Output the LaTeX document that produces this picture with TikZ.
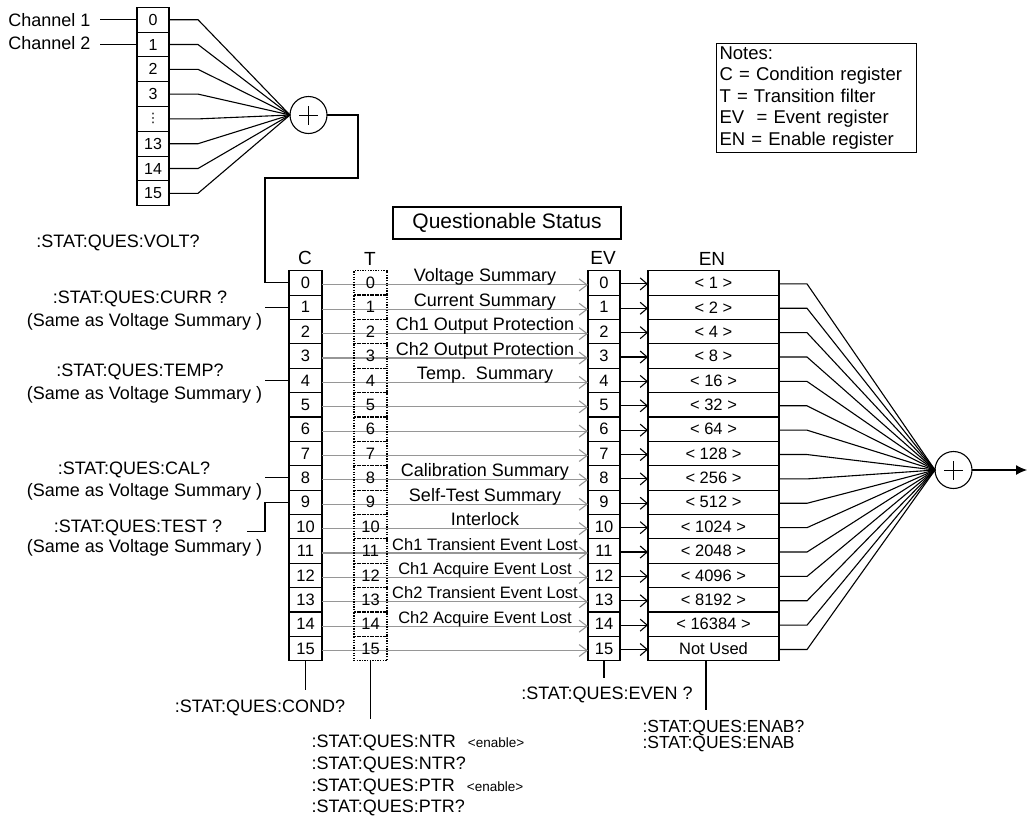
\documentclass[tikz,border=0pt]{standalone}
\usepackage{fontspec}
\setmainfont{Liberation Sans}
\newfontfamily\dejavu{DejaVu Sans}
\usetikzlibrary{arrows.meta}
\definecolor{lgray}{RGB}{150,150,150}
\newcommand\lblfont{\fontsize{18}{21}\selectfont}
\newcommand\enabfont{\fontsize{17.5}{21}\selectfont}
\newcommand\numfont{\fontsize{16.5}{20}\selectfont}
\newcommand\topnumfont{\fontsize{16}{20}\selectfont}
\newcommand\sigfont{\fontsize{18}{21}\selectfont}
\newcommand\smsigfont{\fontsize{16.5}{20}\selectfont}
\newcommand\hdrfont{\fontsize{19}{22}\selectfont}
\newcommand\tinyfont{\fontsize{13.5}{15}\selectfont}
\newcommand\notefont{\fontsize{18.5}{21.5}\selectfont}
\newcommand\titlefont{\fontsize{21}{24}\selectfont}
\begin{document}
\begin{tikzpicture}[x=1pt,y=-1pt,line width=1.1pt,
  cell/.style={draw, inner sep=0pt, outer sep=0pt, minimum height=24.375pt, font=\numfont},
  tcell/.style={draw, dash pattern=on 1.3pt off 1.3pt, line width=1.2pt, inner sep=0pt, outer sep=0pt,
                minimum width=33pt, minimum height=24.375pt, font=\numfont},
  topcell/.style={draw, inner sep=0pt, outer sep=0pt, minimum width=32pt, minimum height=24.8pt, font=\topnumfont},
  sumnode/.style={draw, circle, inner sep=0pt, outer sep=0pt, minimum size=37pt},
  garrow/.style={draw=lgray, line width=1.1pt, -{Straight Barb[length=8pt,width=12pt]}},
  barrow/.style={draw=black, line width=1.1pt, -{Straight Barb[length=7pt,width=12pt]}},
  lbl/.style={font=\lblfont, inner sep=0pt, anchor=base},
  lblw/.style={font=\lblfont, inner sep=0pt, anchor=base west},
  sig/.style={font=\sigfont, inner sep=0pt, anchor=base},
  smsig/.style={font=\smsigfont, inner sep=0pt, anchor=base},
  hdr/.style={font=\hdrfont, inner sep=0pt, anchor=base}
]
\useasboundingbox (0,0) rectangle (1032,815);

% ---------- top summary register ----------
\foreach \i/\t in {0/0,1/1,2/2,3/3,4/{{\dejavu\fontsize{13}{13}\selectfont ⋮}},5/13,6/14,7/15} {
  \node[topcell] (tr\i) at (153,{19.7+\i*24.8}) {\t};
}
\node[sumnode] (s1) at (308.5,115) {};
\draw[line width=1pt] ([xshift=-9.5pt]s1.center) -- ([xshift=9.5pt]s1.center);
\draw[line width=1pt] ([yshift=-9.5pt]s1.center) -- ([yshift=9.5pt]s1.center);
\foreach \i in {0,...,7} {
  \draw (tr\i.east) -- ++(29,0) -- (s1.west);
}
\node[lbl, anchor=base east] (ch1) at (91,26.3) {Channel 1};
\node[lbl, anchor=base east] (ch2) at (91,49.5) {Channel 2};
\draw (tr0.west) -- ++(-37,0);
\draw (tr1.west) -- ++(-37,0);

% ---------- notes ----------
\node[draw, anchor=north west, align=left, text width=194pt, inner xsep=3pt, inner ysep=3pt,
      font=\notefont] (notes) at (716,43)
  {Notes:\\ C = Condition register\\ T = Transition filter\\ EV\ \ = Event register\\ EN = Enable register};

% ---------- title ----------
\node[draw, minimum width=228pt, minimum height=32pt, inner sep=0pt, font=\titlefont] (title) at (507,223) {Questionable Status};

% ---------- column headers ----------
\node[hdr] (hc) at (305,264.8) {C};
\node[hdr] (ht) at (370,265.8) {T};
\node[hdr] (hev) at (603,264.8) {EV};
\node[hdr] (hen) at (712,265.8) {EN};

% ---------- registers ----------
\foreach \i in {0,...,15} {
  \node[cell, minimum width=33pt] (c\i) at (305.5,{282.9+\i*24.375}) {\i};
  \node[cell, minimum width=32pt] (ev\i) at (604,{282.9+\i*24.375}) {\i};
}
\foreach \i/\t in {0/{< 1 >},1/{< 2 >},2/{< 4 >},3/{< 8 >},4/{< 16 >},5/{< 32 >},6/{< 64 >},7/{< 128 >},
                   8/{< 256 >},9/{< 512 >},10/{< 1024 >},11/{< 2048 >},12/{< 4096 >},13/{< 8192 >},
                   14/{< 16384 >},15/{Not Used}} {
  \node[cell, minimum width=131pt] (en\i) at (713.5,{282.9+\i*24.375}) {\t};
}
\foreach \i in {0,...,15} {
  \draw[garrow] ([yshift=-2pt]c\i.east) -- ([yshift=-2pt]ev\i.west);
  \node[tcell] (t\i) at (370.5,{282.9+\i*24.375}) {\i};
  \draw[barrow] ([yshift=-1pt]ev\i.east) -- ([yshift=-1pt]en\i.west);
}

% ---------- signal names ----------
\foreach \i/\t in {0/Voltage Summary,1/Current Summary,2/Ch1 Output Protection,3/Ch2 Output Protection,
                   4/{Temp.\ \ Summary},8/Calibration Summary,9/Self-Test Summary,10/Interlock} {
  \node[sig] (sn\i) at (485,{281.9+\i*24.375}) {\t};
}
\foreach \i/\t in {11/Ch1 Transient Event Lost,12/Ch1 Acquire Event Lost,13/Ch2 Transient Event Lost,
                   14/Ch2 Acquire Event Lost} {
  \node[smsig] (sn\i) at (485,{281.9+\i*24.375}) {\t};
}

% ---------- output summary ----------
\node[sumnode] (s2) at (953.5,470) {};
\draw[line width=1pt] ([xshift=-9.5pt]s2.center) -- ([xshift=9.5pt]s2.center);
\draw[line width=1pt] ([yshift=-9.5pt]s2.center) -- ([yshift=9.5pt]s2.center);
\foreach \i in {0,...,15} {
  \draw ([yshift=-1pt]en\i.east) -- ++(28,0) -- (s2.west);
}
\coordinate (out) at (1027,470);
\draw[-{Latex[length=11pt,width=10pt]}] (s2.east) -- (out);

% ---------- summary into C bit 0 ----------
\draw (s1.east) -- ++(31,0) |- (265,178) |- (c0.west);

% ---------- left labels ----------
\node[lbl] (volt) at (118,247.3) {:STAT:QUES:VOLT?};
\node[lbl] (curr) at (140,303.3) {:STAT:QUES:CURR ?};
\node[lbl] (curr2) at (144.5,326.3) {(Same as Voltage Summary )};
\node[lbl] (temp) at (140,376.3) {:STAT:QUES:TEMP?};
\node[lbl] (temp2) at (144.5,399.3) {(Same as Voltage Summary )};
\node[lbl] (cal) at (134,474.3) {:STAT:QUES:CAL?};
\node[lbl] (cal2) at (144.5,496.3) {(Same as Voltage Summary )};
\node[lbl] (test) at (138,532.3) {:STAT:QUES:TEST ?};
\node[lbl] (test2) at (144.5,552.3) {(Same as Voltage Summary )};
\draw (c1.west) -- ++(-24,0);
\draw (c4.west) -- ++(-24,0);
\draw (c8.west) -- ++(-24,0);
\draw (c9.west) -- ++(-24,0) -- ++(0,29) -- ++(-18,0);

% ---------- bottom labels ----------
\draw (c15.south) -- ++(0,29);
\node[lbl] (cond) at (260,712.3) {:STAT:QUES:COND?};
\draw (t15.south) -- ++(0,58);
\node[lblw] (ntr1) at (311,747.3) {:STAT:QUES:NTR\hspace{12pt}{\tinyfont <enable>}};
\node[lblw] (ntr2) at (311,769.3) {:STAT:QUES:NTR?};
\node[lblw] (ptr1) at (311,791.3) {:STAT:QUES:PTR\hspace{12pt}{\tinyfont <enable>}};
\node[lblw] (ptr2) at (311,812.3) {:STAT:QUES:PTR?};
\draw (ev15.south) -- ++(0,17);
\node[lbl] (even) at (607,699.3) {:STAT:QUES:EVEN ?};
\draw ([xshift=-7.5pt]en15.south) -- ++(0,49);
\node[lblw, font=\enabfont] (enab1) at (642,732.5) {:STAT:QUES:ENAB?};
\node[lblw, font=\enabfont] (enab2) at (642,748) {:STAT:QUES:ENAB};
\end{tikzpicture}
\end{document}
